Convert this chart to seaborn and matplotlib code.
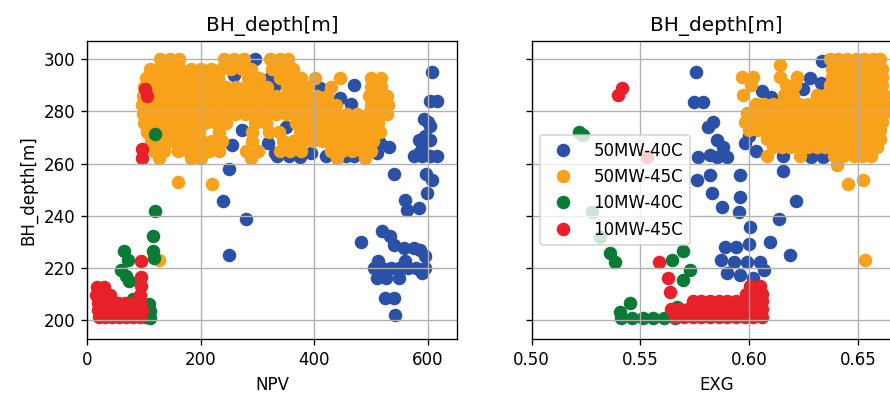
import matplotlib
matplotlib.use("Agg")
import matplotlib.pyplot as plt
import pandas as pd
import seaborn as sns
from matplotlib.lines import Line2D

labels = ["50MW-40C", "50MW-45C", "10MW-40C", "10MW-45C"]
colors = ["#2a50a8", "#f8a11b", "#0a7b35", "#e8202a"]

# ---------------- NPV panel (NPV, BH_depth) ----------------
npv_50_40 = [(296, 300), (258, 294), (322, 293), (410, 289), (445, 285), (465, 283), (330, 290),
             (470, 290), (420, 287), (272, 273), (255, 267), (318, 268), (330, 264), (350, 274),
             (395, 264), (420, 263), (455, 263), (250, 258), (335, 263), (355, 263), (375, 262.5),
             (470, 263), (490, 263), (510, 264), (515, 268), (380, 280), (300, 280), (450, 275),
             (500, 280), (480, 272),
             (607, 295.3), (604, 284), (616, 284), (593, 277), (604, 274.4), (584, 269.2),
             (595, 270.5), (604, 269.2), (575, 262.8), (590, 262.8), (604, 262.8), (616, 262.8),
             (531, 266.5), (540, 255.8), (596, 255.8), (607, 253.8), (599, 248.7), (560, 246),
             (563, 242.3), (584, 243), (482, 230), (520, 234), (534, 232), (540, 228.8),
             (558, 227.6), (575, 227.6), (587, 226.9), (595, 224.4), (505, 220), (520, 220),
             (535, 220), (550, 220), (565, 220), (580, 220), (595, 220), (512, 222.4),
             (560, 222.4), (510, 216), (527, 216), (550, 216), (590, 218), (524, 208.3),
             (541, 208.3), (542, 201.9), (590, 266), (600, 276), (585, 264),
             (239.6, 245.7), (279.7, 238.7), (249.7, 224.7)]

npv_50_45_rows = [
    (300, [128, 146, 162, 240, 258, 276, 322, 340, 354]),
    (296.5, [110, 128, 146, 164, 182, 200, 218, 236, 254, 272, 288, 326, 344, 362]),
    (293, [104, 122, 140, 158, 176, 194, 212, 230, 284, 302, 340, 358, 376, 402, 446, 500, 518]),
    (289.5, [100, 118, 136, 154, 172, 190, 208, 226, 244, 262, 280, 298, 316, 352, 370, 388, 430, 500, 518]),
    (286, [98, 116, 134, 152, 170, 188, 206, 224, 242, 260, 278, 296, 314, 332, 350, 368, 386, 404, 422, 496, 514, 528]),
    (282.5, [96, 114, 132, 150, 168, 186, 204, 222, 240, 258, 276, 294, 312, 330, 348, 366, 384, 402, 420, 438, 500, 518, 530]),
    (279, [98, 116, 134, 152, 170, 188, 206, 224, 242, 260, 278, 296, 314, 332, 350, 368, 386, 404, 422, 440, 458, 476, 494, 512, 528]),
    (275.5, [100, 118, 136, 154, 172, 190, 208, 226, 244, 296, 314, 368, 386, 404, 422, 440, 458, 476, 494, 512]),
    (272, [106, 124, 142, 160, 178, 196, 232, 290, 320, 338, 374, 392, 410, 428, 446, 464, 482, 500, 516]),
    (268.5, [112, 130, 148, 166, 184, 202, 220, 238, 290, 344, 362, 380, 398, 416, 434, 452, 470, 488, 504]),
    (265, [118, 136, 160, 178, 196, 214, 232, 280, 300, 340, 358, 376, 430, 448, 466, 484, 500]),
    (262, [126, 182, 200, 288, 440, 490]),
    (253, [160]), (252, [220]), (223, [126]),
]

npv_10_40 = [(119, 241.7), (116, 232), (116, 226.3), (117, 223.7), (65, 226.3), (71, 223),
             (59, 219.2), (68, 216.7), (73, 214.7), (108, 206), (111, 203.2), (111, 200.6),
             (104, 201), (119, 271.4), (45, 204), (80, 208), (60, 202)]

npv_10_45_rows = [
    (212.5, [17, 30]),
    (209.5, [16, 28, 40, 92]),
    (206.5, [18, 30, 42, 54, 66, 78, 92]),
    (203.5, [18, 30, 42, 54, 66, 78, 90, 96]),
    (200.8, [20, 32, 44, 56, 68, 80, 92]),
    (222.4, [94]), (216.4, [94]), (212.8, [94]), (288.5, [102]), (286, [105.5]),
    (265.4, [97]), (262.2, [97]),
]

# ---------------- EXG panel (EXG, BH_depth) ----------------
exg_50_40 = [(0.5754, 295.1), (0.5745, 283.8), (0.5790, 283.8), (0.5834, 276), (0.5812, 274.2),
             (0.5850, 269.1), (0.5880, 266.5), (0.5897, 262.6), (0.5820, 263.3), (0.5850, 262.6),
             (0.5766, 262.6), (0.5759, 253.7), (0.5820, 255.6), (0.5958, 255.6), (0.6157, 257.2),
             (0.5828, 248.6), (0.5958, 247.2), (0.6216, 245.7), (0.5874, 243.4), (0.5955, 241.5),
             (0.6139, 238.7), (0.6096, 229.8), (0.6188, 224.8), (0.6005, 235.5), (0.5890, 228),
             (0.5940, 228), (0.6000, 229), (0.5870, 223), (0.5930, 222), (0.5990, 222),
             (0.6050, 222), (0.5900, 218), (0.5960, 217), (0.6020, 216), (0.6070, 219),
             (0.5981, 207.5),
             (0.6335, 299.3), (0.6280, 293), (0.6330, 291), (0.6250, 288.5), (0.6060, 288),
             (0.6100, 285.5), (0.5980, 268), (0.6030, 265), (0.6000, 270.5), (0.6157, 262.8),
             (0.6285, 262.5), (0.6340, 262.5), (0.6450, 280), (0.6550, 290), (0.6400, 270),
             (0.6500, 275), (0.6200, 278), (0.6300, 283)]

exg_50_45_rows = [
    (300, [0.637, 0.641, 0.645, 0.649, 0.653, 0.657, 0.660]),
    (297.9, [0.6142]),
    (296.5, [0.638, 0.642, 0.646, 0.650, 0.654, 0.658, 0.661]),
    (293.4, [0.5966, 0.6019, 0.6140, 0.6219, 0.638, 0.642, 0.646, 0.650, 0.654, 0.658, 0.661]),
    (290, [0.601, 0.617, 0.621, 0.637, 0.641, 0.645, 0.649, 0.653, 0.657, 0.661]),
    (286.5, [0.5973, 0.616, 0.620, 0.631, 0.635, 0.639, 0.643, 0.647, 0.651, 0.655, 0.659, 0.662]),
    (283, [0.603, 0.607, 0.611, 0.615, 0.619, 0.623, 0.627, 0.631, 0.635, 0.639, 0.643, 0.647,
           0.651, 0.655, 0.659, 0.662]),
    (279.5, [0.599, 0.603, 0.607, 0.611, 0.615, 0.619, 0.623, 0.627, 0.631, 0.635, 0.639, 0.643,
             0.647, 0.651, 0.655, 0.659, 0.662]),
    (276, [0.598, 0.602, 0.606, 0.610, 0.614, 0.618, 0.622, 0.626, 0.630, 0.634, 0.638, 0.642,
           0.646, 0.650, 0.654, 0.658, 0.661]),
    (273, [0.600, 0.604, 0.608, 0.612, 0.616, 0.620, 0.624, 0.628, 0.632, 0.636, 0.640, 0.644,
           0.648, 0.652, 0.656, 0.660]),
    (269.5, [0.608, 0.612, 0.616, 0.620, 0.624, 0.628, 0.632, 0.636, 0.640, 0.644, 0.648, 0.652,
             0.656, 0.660]),
    (266.5, [0.611, 0.615, 0.619, 0.623, 0.627, 0.631, 0.635, 0.639, 0.643, 0.647, 0.651, 0.655,
             0.659]),
    (263, [0.608, 0.6234, 0.639, 0.6433, 0.648, 0.652, 0.656]),
    (259.5, [0.6403]), (253.5, [0.6525]), (252.2, [0.6456]), (222.9, [0.6533]),
]

exg_10_40 = [(0.5219, 272), (0.5237, 271), (0.5276, 241.5), (0.5314, 231.9), (0.5360, 225.5),
             (0.5383, 222.2), (0.5644, 222.9), (0.5695, 226.3), (0.5728, 219), (0.5697, 215.2),
             (0.5406, 203), (0.5452, 206.2), (0.5410, 200.5), (0.5460, 200.5), (0.5510, 200.5),
             (0.5560, 200.5), (0.5610, 200.5), (0.5660, 200.5), (0.5667, 205), (0.5750, 203),
             (0.5850, 205), (0.5950, 202)]

exg_10_45_rows = [
    (213, [0.6005, 0.6050]),
    (210, [0.5985, 0.6035, 0.6060]),
    (207, [0.574, 0.578, 0.582, 0.586, 0.590, 0.594, 0.598, 0.602, 0.606]),
    (204, [0.564, 0.568, 0.572, 0.576, 0.580, 0.584, 0.588, 0.592, 0.596, 0.600, 0.604, 0.606]),
    (200.8, [0.566, 0.570, 0.574, 0.578, 0.582, 0.586, 0.590, 0.594, 0.598, 0.602, 0.606]),
    (286.5, [0.5395]), (289, [0.5417]), (262.6, [0.5529]), (222.2, [0.5587]),
    (215.8, [0.5628]), (210.7, [0.5636]),
]


def from_pairs(pairs, label, xname):
    return pd.DataFrame({xname: [p[0] for p in pairs],
                         "BH_depth[m]": [p[1] for p in pairs],
                         "case": label})


def from_rows(rows, label, xname):
    xs, ys = [], []
    for depth, vals in rows:
        for v in vals:
            xs.append(v)
            ys.append(depth)
    return pd.DataFrame({xname: xs, "BH_depth[m]": ys, "case": label})


df_npv = pd.concat([
    from_pairs(npv_50_40, labels[0], "NPV"),
    from_rows(npv_50_45_rows, labels[1], "NPV"),
    from_pairs(npv_10_40, labels[2], "NPV"),
    from_rows(npv_10_45_rows, labels[3], "NPV"),
], ignore_index=True)

df_exg = pd.concat([
    from_pairs(exg_50_40, labels[0], "EXG"),
    from_rows(exg_50_45_rows, labels[1], "EXG"),
    from_pairs(exg_10_40, labels[2], "EXG"),
    from_rows(exg_10_45_rows, labels[3], "EXG"),
], ignore_index=True)

plt.rcParams["font.family"] = ["DejaVu Sans"]
plt.rcParams["font.size"] = 10

DPI = 120
fig = plt.figure(figsize=(890 / DPI, 397 / DPI), dpi=DPI)
ax1 = fig.add_axes([0.0981, 0.1453, 0.4151, 0.7514])
ax2 = fig.add_axes([0.5974, 0.1453, 0.4151, 0.7514], sharey=ax1)

palette = dict(zip(labels, colors))
MS = 66

for ax, df, xname in [(ax1, df_npv, "NPV"), (ax2, df_exg, "EXG")]:
    for lab in labels:
        sub = df[df["case"] == lab]
        sns.scatterplot(data=sub, x=xname, y="BH_depth[m]", color=palette[lab],
                        s=MS, linewidth=0, ax=ax, legend=False)
    ax.grid(True)
    ax.set_title("BH_depth[m]")
    ax.set_xlabel(xname)

ax1.set_xlim(0, 651)
ax2.set_xlim(0.5, 0.6699)
ax1.set_ylim(192.4, 307.1)
ax1.set_xticks([0, 200, 400, 600])
ax2.set_xticks([0.50, 0.55, 0.60, 0.65])
ax1.set_ylabel("BH_depth[m]")
ax2.set_ylabel("")
ax2.tick_params(labelleft=False)

handles = [Line2D([], [], marker="o", linestyle="", color=c, markersize=MS ** 0.5,
                  markeredgewidth=0) for c in colors]
ax2.legend(handles, labels, loc="center left")

fig.savefig("out.png", dpi=DPI)
